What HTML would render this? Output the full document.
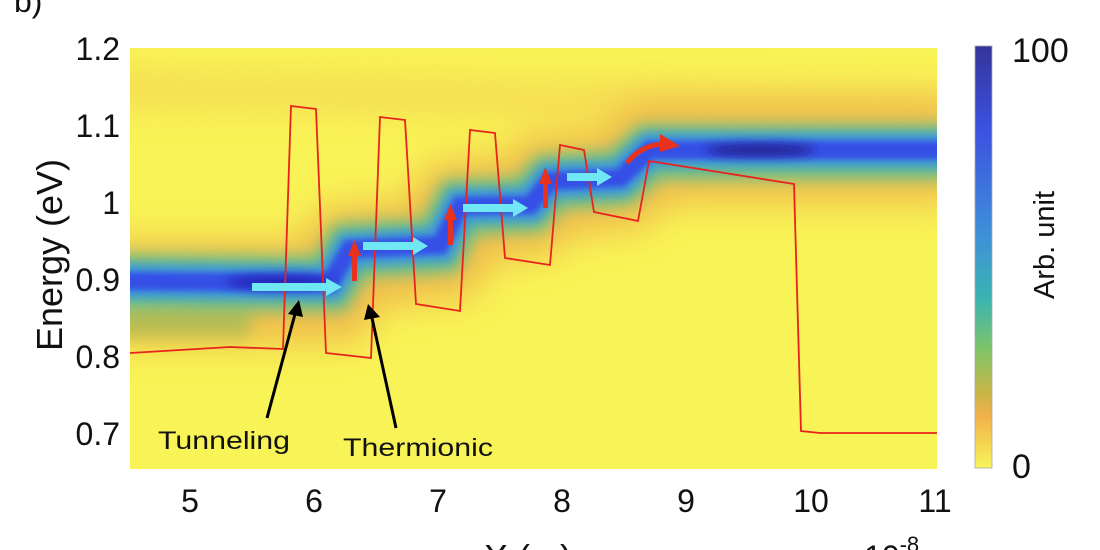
<!DOCTYPE html>
<html><head><meta charset="utf-8"><style>
html,body{margin:0;padding:0;background:#fff;width:1100px;height:550px;overflow:hidden}
svg{display:block}
text{font-family:"Liberation Sans",sans-serif;fill:#111}
</style></head><body>
<svg width="1100" height="550" viewBox="0 0 1100 550" overflow="hidden">
<defs>
<clipPath id="pc"><rect x="130" y="48" width="807" height="421"/></clipPath>
<clipPath id="all"><rect x="0" y="0" width="1100" height="550"/></clipPath>
<filter id="b20" filterUnits="userSpaceOnUse" x="0" y="0" width="1100" height="550"><feGaussianBlur stdDeviation="18"/></filter>
<filter id="b10" filterUnits="userSpaceOnUse" x="0" y="0" width="1100" height="550"><feGaussianBlur stdDeviation="8"/></filter>
<filter id="b6" filterUnits="userSpaceOnUse" x="0" y="0" width="1100" height="550"><feGaussianBlur stdDeviation="5"/></filter>
<filter id="b3" filterUnits="userSpaceOnUse" x="0" y="0" width="1100" height="550"><feGaussianBlur stdDeviation="3"/></filter>
<linearGradient id="cb" x1="0" y1="0" x2="0" y2="1">
<stop offset="0" stop-color="#35349a"/><stop offset="0.2" stop-color="#3b52e0"/>
<stop offset="0.45" stop-color="#3f90d8"/><stop offset="0.6" stop-color="#3bb4b0"/>
<stop offset="0.72" stop-color="#80c468"/><stop offset="0.82" stop-color="#c8b548"/>
<stop offset="0.88" stop-color="#f2b24a"/><stop offset="1" stop-color="#f7f55a"/>
</linearGradient>
</defs>
<g clip-path="url(#all)">
<text x="14" y="12" font-size="32">b)</text>
<g clip-path="url(#pc)">
<rect x="130" y="48" width="807" height="421" fill="#f8f356"/>
<path d="M100,88 L500,98 L960,108" stroke="#f2c04e" stroke-width="26" fill="none" filter="url(#b20)" opacity="0.6"/>
<path d="M100,292 L330,292 L350,257 L440,250 L460,212 L530,206 L550,184 L620,180 L650,152 L960,152" stroke="#efb048" stroke-width="100" fill="none" filter="url(#b20)" opacity="0.85"/>
<path d="M100,322 L250,322" stroke="#a8bc55" stroke-width="30" fill="none" filter="url(#b10)" opacity="0.8"/>
<path d="M100,282 L330,284 L350,250 L440,246 L460,207 L530,205 L550,182 L620,178 L650,152 L960,152" stroke="#62c08a" stroke-width="54" fill="none" filter="url(#b10)"/>
<path d="M100,281 L330,283 L350,250 L440,245 L460,206 L530,205 L550,181 L620,178 L650,150 L960,150" stroke="#3c96dc" stroke-width="34" fill="none" filter="url(#b6)"/>
<path d="M100,281 L330,283 L350,249 L440,245 L460,206 L530,205 L550,181 L620,178 L650,150 L960,150" stroke="#3550e6" stroke-width="18" fill="none" filter="url(#b3)"/>
<ellipse cx="280" cy="282" rx="55" ry="7" fill="#2428b8" filter="url(#b6)"/>
<ellipse cx="760" cy="150" rx="55" ry="6" fill="#20208f" filter="url(#b6)"/>
<polyline fill="none" stroke="#e8231e" stroke-width="1.8" points="130,353 230,347 283,349 291,106 316,109 326,353 371,358 380,117 405,120 416,304 460,311 470,130 495,133 505,258 550,265 560,145 584,150 594,212 638,221 649,161 794,184 801,431 820,433 937,433"/>
<g fill="#6fe8f4">
<rect x="252" y="283" width="74" height="8"/><polygon points="326,278 342,287 326,296"/>
<rect x="363" y="242" width="50" height="8"/><polygon points="413,237 428,246 413,255"/>
<rect x="463" y="204" width="50" height="8"/><polygon points="513,199 528,208 513,217"/>
<rect x="567" y="173" width="30" height="8"/><polygon points="597,168 612,177 597,186"/>
</g>
<g fill="#e8321e">
<rect x="352" y="254" width="5" height="27"/><polygon points="348,256 354.5,240 361,256"/>
<rect x="448" y="218" width="5" height="27"/><polygon points="444,220 450.5,204 457,220"/>
<rect x="543" y="182" width="5" height="26"/><polygon points="539,184 545.5,167 552,184"/>
</g>
<path d="M627,163 Q640,146 662,144" stroke="#e8321e" stroke-width="5" fill="none"/>
<polygon points="660,134 680,146 660,152" fill="#e8321e"/>
<line x1="267" y1="418" x2="295" y2="314" stroke="#000" stroke-width="3"/>
<polygon points="288,314 299,300 303,317" fill="#000"/>
<line x1="396" y1="428" x2="372" y2="318" stroke="#000" stroke-width="3"/>
<polygon points="364,320 368,304 380,317" fill="#000"/>
<text x="158" y="449" font-size="25" textLength="132" lengthAdjust="spacingAndGlyphs">Tunneling</text>
<text x="343" y="456" font-size="25" textLength="150" lengthAdjust="spacingAndGlyphs">Thermionic</text>
</g>
<g font-size="32" text-anchor="end">
<text x="120" y="60">1.2</text><text x="120" y="137">1.1</text><text x="120" y="214">1</text>
<text x="120" y="291">0.9</text><text x="120" y="368">0.8</text><text x="120" y="445">0.7</text>
</g>
<text transform="translate(62,255) rotate(-90)" font-size="36" text-anchor="middle">Energy (eV)</text>
<g font-size="32" text-anchor="middle">
<text x="190" y="512">5</text><text x="314" y="512">6</text><text x="438" y="512">7</text>
<text x="562" y="512">8</text><text x="686" y="512">9</text><text x="811" y="512">10</text><text x="935" y="512">11</text>
</g>
<text x="528" y="570" font-size="36" text-anchor="middle">X (m)</text>
<text x="864" y="568" font-size="32">10<tspan font-size="22" dy="-16">-8</tspan></text>
<rect x="975" y="46" width="17" height="422" fill="url(#cb)" stroke="#aaa" stroke-width="0.8"/>
<text x="1012" y="62" font-size="34">100</text>
<text x="1012" y="478" font-size="34">0</text>
<text transform="translate(1054,245) rotate(-90)" font-size="29" text-anchor="middle">Arb. unit</text>
</g>
</svg>
</body></html>
